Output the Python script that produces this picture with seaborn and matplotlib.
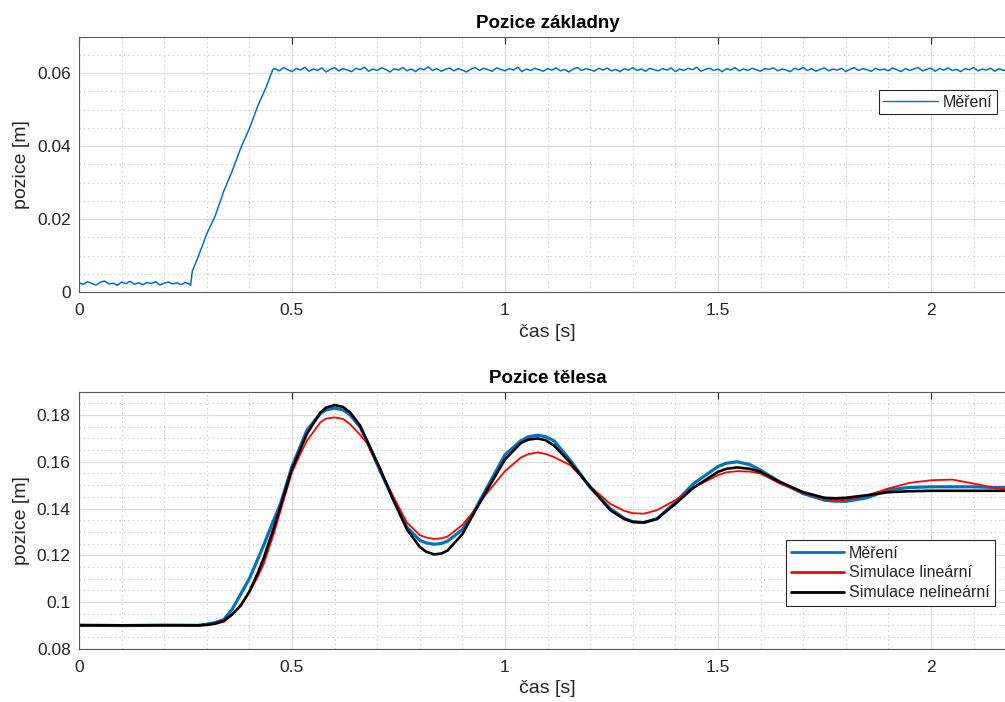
import numpy as np
import pandas as pd
import matplotlib
matplotlib.use("Agg")
from matplotlib import pyplot as plt
from matplotlib.ticker import MultipleLocator, FuncFormatter
import seaborn as sns

# ---- top plot: base position (measured) ----
t_base_flat = np.round(np.arange(0, 0.265, 0.01), 2)
base_flat = [0.0026, 0.0022, 0.0029, 0.0024, 0.0020, 0.0027, 0.0031, 0.0023, 0.0025, 0.0019,
             0.0028, 0.0024, 0.0030, 0.0022, 0.0026, 0.0021, 0.0027, 0.0024, 0.0029, 0.0020,
             0.0025, 0.0028, 0.0023, 0.0026, 0.0021, 0.0027, 0.0022]
t_base_ramp = [0.262, 0.266, 0.28, 0.30, 0.32, 0.34, 0.36, 0.38, 0.40, 0.42, 0.44, 0.455]
base_ramp = [0.0019, 0.0058, 0.0098, 0.0160, 0.0210, 0.0277, 0.0333, 0.0396, 0.0448, 0.0511, 0.0563, 0.0610]
t_base_top = np.round(np.arange(0.46, 2.205, 0.01), 2)
base_top = [0.0612, 0.0606, 0.0615, 0.0609, 0.0604, 0.0613, 0.0608, 0.0616, 0.0605, 0.0611,
            0.0607, 0.0614, 0.0603, 0.0610, 0.0615, 0.0606, 0.0612, 0.0608, 0.0604, 0.0613,
            0.0609, 0.0616, 0.0605, 0.0611, 0.0607, 0.0614, 0.0610, 0.0603, 0.0612, 0.0608,
            0.0615, 0.0606, 0.0611, 0.0604, 0.0613, 0.0609, 0.0617, 0.0607, 0.0612, 0.0605,
            0.0610, 0.0614, 0.0606, 0.0612, 0.0608, 0.0603, 0.0611, 0.0615, 0.0607, 0.0613,
            0.0609, 0.0605, 0.0614, 0.0610, 0.0606, 0.0612, 0.0608, 0.0616, 0.0604, 0.0611,
            0.0607, 0.0613, 0.0609, 0.0605, 0.0612, 0.0608, 0.0614, 0.0606, 0.0610, 0.0603,
            0.0611, 0.0615, 0.0607, 0.0612, 0.0609, 0.0605, 0.0613, 0.0608, 0.0614, 0.0606,
            0.0610, 0.0604, 0.0612, 0.0608, 0.0615, 0.0607, 0.0611, 0.0605, 0.0613, 0.0609,
            0.0606, 0.0612, 0.0608, 0.0614, 0.0604, 0.0611, 0.0607, 0.0613, 0.0609, 0.0616,
            0.0605, 0.0610, 0.0613, 0.0607, 0.0611, 0.0604, 0.0612, 0.0608, 0.0615, 0.0606,
            0.0611, 0.0607, 0.0613, 0.0609, 0.0605, 0.0612, 0.0610, 0.0614, 0.0606, 0.0611,
            0.0608, 0.0604, 0.0613, 0.0609, 0.0615, 0.0607, 0.0612, 0.0605, 0.0610, 0.0614,
            0.0606, 0.0611, 0.0608, 0.0613, 0.0604, 0.0610, 0.0615, 0.0607, 0.0612, 0.0609,
            0.0605, 0.0613, 0.0608, 0.0611, 0.0606, 0.0614, 0.0609, 0.0604, 0.0612, 0.0607,
            0.0611, 0.0615, 0.0606, 0.0610, 0.0613, 0.0605, 0.0612, 0.0608, 0.0614, 0.0607,
            0.0610, 0.0604, 0.0612, 0.0609, 0.0615, 0.0606, 0.0611, 0.0608, 0.0613, 0.0605,
            0.0612, 0.0607, 0.0610, 0.0614, 0.0606]

# ---- bottom plot: body position ----
t_body = [0, 0.1, 0.2, 0.28, 0.30, 0.32, 0.34, 0.36, 0.38, 0.40,
          0.42, 0.433, 0.457, 0.473, 0.50, 0.52, 0.535, 0.567, 0.58, 0.60,
          0.62, 0.637, 0.66, 0.676, 0.707, 0.738, 0.77, 0.80, 0.815, 0.833,
          0.85, 0.865, 0.90, 0.927, 0.955, 1.0, 1.037, 1.055, 1.076, 1.095,
          1.115, 1.154, 1.2, 1.247, 1.28, 1.30, 1.326, 1.357, 1.40, 1.443,
          1.50, 1.52, 1.545, 1.575, 1.60, 1.645, 1.70, 1.75, 1.775, 1.80,
          1.85, 1.90, 1.95, 2.0, 2.05, 2.1, 2.15, 2.2]
body_meas = [0.0901, 0.0899, 0.0901, 0.0900, 0.0905, 0.0912, 0.0925, 0.0970, 0.1035, 0.1100,
             0.1185, 0.1240, 0.1350, 0.1420, 0.1580, 0.1668, 0.1735, 0.1807, 0.1822, 0.1830,
             0.1822, 0.1800, 0.1748, 0.1690, 0.1560, 0.1440, 0.1320, 0.1264, 0.1253, 0.1247,
             0.1250, 0.1260, 0.1310, 0.1386, 0.1480, 0.1630, 0.1690, 0.1707, 0.1714, 0.1708,
             0.1690, 0.1605, 0.1490, 0.1400, 0.1358, 0.1343, 0.1340, 0.1356, 0.1427, 0.1507,
             0.1580, 0.1594, 0.1600, 0.1588, 0.1564, 0.1514, 0.1464, 0.1436, 0.1431, 0.1431,
             0.1446, 0.1480, 0.1490, 0.1493, 0.1493, 0.1493, 0.1490, 0.1490]
body_lin = [0.0900, 0.0900, 0.0900, 0.0900, 0.0902, 0.0906, 0.0915, 0.0945, 0.0990, 0.1040,
            0.1110, 0.1160, 0.1290, 0.1390, 0.1555, 0.1635, 0.1690, 0.1770, 0.1785, 0.1790,
            0.1783, 0.1760, 0.1715, 0.1680, 0.1565, 0.1450, 0.1340, 0.1286, 0.1276, 0.1270,
            0.1272, 0.1280, 0.1330, 0.1390, 0.1460, 0.1560, 0.1618, 0.1633, 0.1640, 0.1634,
            0.1620, 0.1585, 0.1495, 0.1420, 0.1390, 0.1380, 0.1378, 0.1393, 0.1436, 0.1490,
            0.1543, 0.1555, 0.1560, 0.1558, 0.1550, 0.1507, 0.1467, 0.1440, 0.1436, 0.1437,
            0.1456, 0.1486, 0.1510, 0.1521, 0.1524, 0.1507, 0.1488, 0.1480]
body_nonlin = [0.0900, 0.0900, 0.0900, 0.0900, 0.0902, 0.0908, 0.0920, 0.0948, 0.0985, 0.1045,
               0.1125, 0.1185, 0.1315, 0.1410, 0.1570, 0.1655, 0.1720, 0.1812, 0.1832, 0.1843,
               0.1835, 0.1810, 0.1755, 0.1690, 0.1570, 0.1436, 0.1310, 0.1236, 0.1215, 0.1204,
               0.1207, 0.1220, 0.1290, 0.1380, 0.1470, 0.1610, 0.1680, 0.1695, 0.1700, 0.1693,
               0.1670, 0.1595, 0.1493, 0.1393, 0.1355, 0.1343, 0.1340, 0.1356, 0.1420, 0.1490,
               0.1557, 0.1570, 0.1576, 0.1570, 0.1557, 0.1514, 0.1470, 0.1446, 0.1444, 0.1446,
               0.1457, 0.1470, 0.1474, 0.1476, 0.1476, 0.1476, 0.1476, 0.1476]

base = pd.DataFrame({
    "t": np.concatenate([t_base_flat, t_base_ramp, t_base_top]),
    "pos": base_flat + base_ramp + base_top,
})
body = pd.DataFrame({"t": t_body, "meas": body_meas, "lin": body_lin, "nonlin": body_nonlin})

sns.set_style("white")
plt.rcParams["font.family"] = ["Liberation Sans", "DejaVu Sans"]

FG = "#262626"
tick_fs = 12.5
lab_fs = 14
leg_fs = 11.5

fig = plt.figure(figsize=(10.05, 7.02), dpi=100)
# axes run slightly past the right edge, like the cropped original
ax1 = fig.add_axes([0.0786, 0.5836, 0.9325, 0.3644])
ax2 = fig.add_axes([0.0786, 0.0759, 0.9325, 0.3661])

sns.lineplot(data=base, x="t", y="pos", ax=ax1, color="#0072BD", lw=1.1,
             errorbar=None, label="Měření")
sns.lineplot(data=body, x="t", y="meas", ax=ax2, color="#0072BD", lw=2.3,
             errorbar=None, label="Měření")
sns.lineplot(data=body, x="t", y="lin", ax=ax2, color="#FF0000", lw=1.3,
             errorbar=None, label="Simulace lineární")
sns.lineplot(data=body, x="t", y="nonlin", ax=ax2, color="black", lw=1.9,
             errorbar=None, label="Simulace nelineární")

fmt = FuncFormatter(lambda v, p: "%g" % round(v, 4))
for ax, ylim, title in [(ax1, (0, 0.07), "Pozice základny"),
                        (ax2, (0.08, 0.19), "Pozice tělesa")]:
    ax.set_xlim(0, 2.2)
    ax.set_ylim(*ylim)
    ax.xaxis.set_major_locator(MultipleLocator(0.5))
    ax.xaxis.set_minor_locator(MultipleLocator(0.1))
    ax.yaxis.set_major_locator(MultipleLocator(0.02))
    ax.yaxis.set_minor_locator(MultipleLocator(0.005))
    ax.xaxis.set_major_formatter(fmt)
    ax.yaxis.set_major_formatter(fmt)
    ax.grid(which="major", color="#dedede", lw=0.9, ls="-")
    ax.grid(which="minor", color="#c4c4c4", lw=0.8, ls=(0, (1, 3)))
    ax.set_axisbelow(True)
    ax.tick_params(which="major", direction="in", length=5, width=0.8, top=True,
                   right=False, colors=FG, labelsize=tick_fs, labelcolor=FG)
    ax.tick_params(axis="x", which="major", pad=8)
    ax.tick_params(axis="y", which="major", pad=6)
    ax.tick_params(which="minor", length=0)
    for s in ax.spines.values():
        s.set_color("#5a5a5a")
        s.set_linewidth(0.8)
    ax.set_title(title, fontsize=13.5, fontweight="bold", color="black", pad=6)
    ax.set_xlabel("čas [s]", fontsize=lab_fs, color=FG, labelpad=4)
    ax.set_ylabel("pozice [m]", fontsize=lab_fs, color=FG, labelpad=5)

leg1 = ax1.legend(loc="upper right", bbox_to_anchor=(0.992, 0.872),
                  bbox_transform=fig.transFigure, fontsize=leg_fs, frameon=True,
                  fancybox=False, framealpha=1, edgecolor=FG, handlelength=3.4,
                  borderpad=0.3, handletextpad=0.3, borderaxespad=0)
leg1.get_frame().set_linewidth(0.8)
for h in leg1.get_lines():
    h.set_linewidth(1.0)

leg2 = ax2.legend(loc="upper right", bbox_to_anchor=(0.990, 0.2308),
                  bbox_transform=fig.transFigure, fontsize=leg_fs, frameon=True,
                  fancybox=False, framealpha=1, edgecolor=FG, handlelength=3.3,
                  borderpad=0.35, handletextpad=0.3, labelspacing=0.3, borderaxespad=0)
leg2.get_frame().set_linewidth(0.8)
for h in leg2.get_lines():
    h.set_linewidth(2.0)

fig.savefig("out.png", dpi=100)
